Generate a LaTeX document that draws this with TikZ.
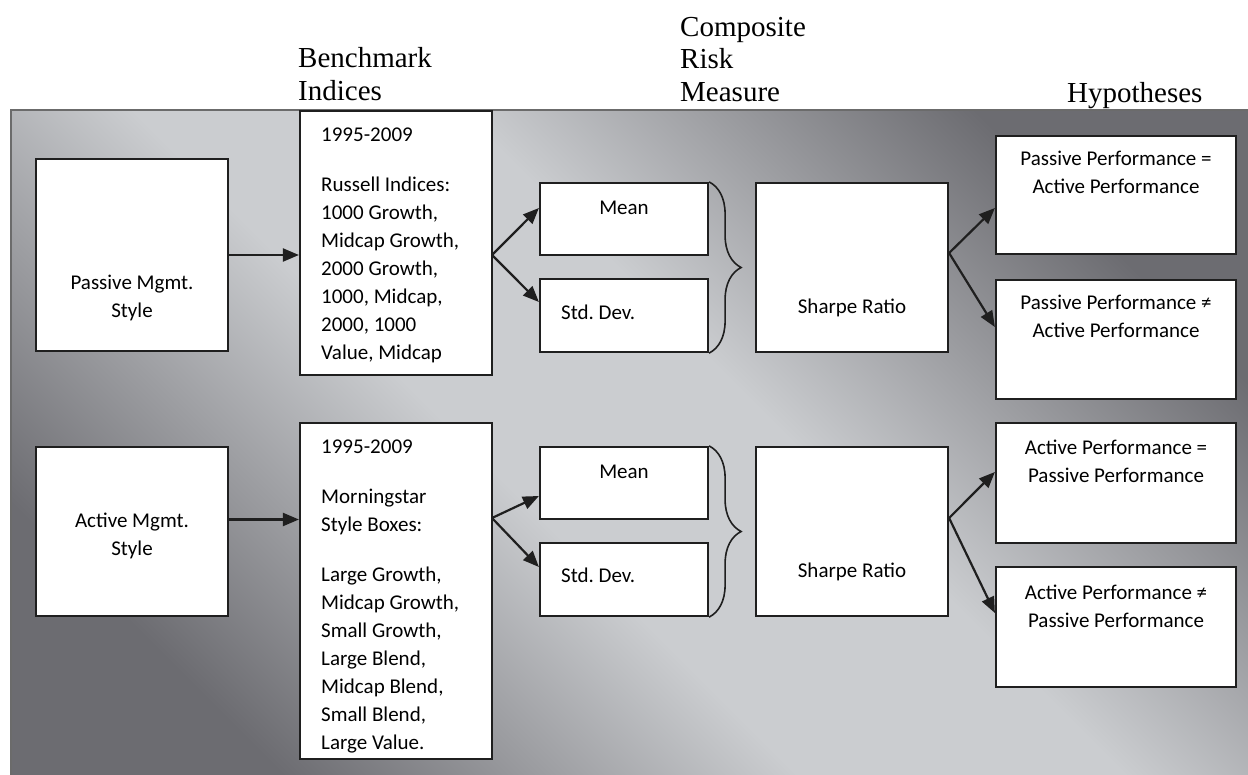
\documentclass[tikz,border=0pt]{standalone}
\usepackage{fontspec}
\usetikzlibrary{arrows.meta, decorations.pathreplacing}
\setmainfont{Carlito}
\newfontfamily\headfont{Liberation Serif}
\frenchspacing
\colorlet{box edge}{black!88}
\colorlet{bg edge}{black!58}
\definecolor{bg dark}{RGB}{108,108,113}
\definecolor{bg light}{RGB}{203,205,208}
\pgfdeclareverticalshading{backdrop}{100bp}{color(0bp)=(bg dark); color(25bp)=(bg dark);
  color(44bp)=(bg light); color(56bp)=(bg light); color(75bp)=(bg dark); color(100bp)=(bg dark)}
\tikzset{
  sbox/.style={draw=box edge, line width=2.2pt, fill=white, inner sep=0pt},
  btext/.style={font=\fontsize{21}{28}\selectfont, inner sep=0pt, align=left},
  ctext/.style={btext, align=center},
  heading/.style={font=\headfont\fontsize{29}{32.5}\selectfont, inner sep=0pt, align=left},
  edge/.style={draw=box edge, line width=2.2pt, -{Triangle[length=16pt,width=13pt]}},
  curly/.style={draw=box edge, line width=1.6pt, decorate, decoration={brace, amplitude=32pt}}
}

\begin{document}
\begin{tikzpicture}[x=1pt, y=-1pt]
    \useasboundingbox (0,0) rectangle (1248,774);
    \shadedraw[shading=backdrop, shading angle=-45, draw=bg edge, line width=2.5pt]
      (11,110) rectangle (1262,790);

    % column headings (base = last line)
    \node[heading, anchor=base west] (benchhead) at (298,100) {Benchmark\\Indices};
    \node[heading, anchor=base west] (riskhead) at (680,101) {Composite\\Risk\\Measure};
    \node[heading, anchor=base west] (hyphead) at (1067,102) {Hypotheses};

    % passive row
    \node[sbox, minimum width=192pt, minimum height=192pt] (passive) at (132,255) {};
    \node[sbox, minimum width=192pt, minimum height=264pt] (russell) at (396,243) {};
    \node[sbox, minimum width=168pt, minimum height=72pt] (mean1) at (624,219) {};
    \node[sbox, minimum width=168pt, minimum height=73pt] (std1) at (624,315.5) {};
    \node[sbox, minimum width=192pt, minimum height=169pt] (sharpe1) at (852,267.5) {};
    \node[sbox, minimum width=240pt, minimum height=118pt] (hyp1) at (1116,195) {};
    \node[sbox, minimum width=240pt, minimum height=119pt] (hyp2) at (1116,339.5) {};

    \node[ctext, anchor=base] (passivetext) at (132,317) {Passive Mgmt.\\Style};
    \node[btext, anchor=base west] (russelltext) at (321,359)
      {1995-2009\\[22pt]Russell Indices:\\1000 Growth,\\Midcap Growth,\\2000 Growth,\\1000, Midcap,\\2000, 1000\\Value, Midcap};
    \node[ctext, anchor=base] (mean1text) at (624,214) {Mean};
    \node[btext, anchor=base west] (std1text) at (561,319) {Std. Dev.};
    \node[ctext, anchor=base] (sharpe1text) at (852,313) {Sharpe Ratio};
    \node[ctext, anchor=base] (hyp1text) at (1116,193) {Passive Performance =\\Active Performance};
    \node[ctext, anchor=base] (hyp2text) at (1116,337) {Passive Performance ≠\\Active Performance};

    % active row
    \node[sbox, minimum width=192pt, minimum height=169pt] (active) at (132,531.5) {};
    \node[sbox, minimum width=192pt, minimum height=336pt] (morning) at (396,591) {};
    \node[sbox, minimum width=168pt, minimum height=72pt] (mean2) at (624,483) {};
    \node[sbox, minimum width=168pt, minimum height=73pt] (std2) at (624,579.5) {};
    \node[sbox, minimum width=192pt, minimum height=169pt] (sharpe2) at (852,531.5) {};
    \node[sbox, minimum width=240pt, minimum height=120pt] (hyp3) at (1116,483) {};
    \node[sbox, minimum width=240pt, minimum height=120pt] (hyp4) at (1116,627) {};

    \node[ctext, anchor=base] (activetext) at (132,555) {Active Mgmt.\\Style};
    \node[btext, anchor=base west] (morningtext) at (321,749)
      {1995-2009\\[22pt]Morningstar\\Style Boxes:\\[22pt]Large Growth,\\Midcap Growth,\\Small Growth,\\Large Blend,\\Midcap Blend,\\Small Blend,\\Large Value.};
    \node[ctext, anchor=base] (mean2text) at (624,478) {Mean};
    \node[btext, anchor=base west] (std2text) at (561,582) {Std. Dev.};
    \node[ctext, anchor=base] (sharpe2text) at (852,577) {Sharpe Ratio};
    \node[ctext, anchor=base] (hyp3text) at (1116,482) {Active Performance =\\Passive Performance};
    \node[ctext, anchor=base] (hyp4text) at (1116,627) {Active Performance ≠\\Passive Performance};

    % connectors
    \coordinate (fork1) at (492,255);
    \coordinate (fork2) at (492,518);
    \coordinate (split1) at ([yshift=14.5pt]sharpe1.east);
    \coordinate (split2) at ([yshift=13.5pt]sharpe2.east);
    \draw[edge] (passive.east) -- (passive.east -| russell.west);
    \draw[edge] ([yshift=12pt]active.east) -- ([yshift=12pt]active.east -| morning.west);
    \draw[edge] (fork1) -- ([yshift=11pt]mean1.west);
    \draw[edge] (fork1) -- ([yshift=13.5pt]std1.west);
    \draw[edge] (fork2) -- ([yshift=-13pt]mean2.west);
    \draw[edge] (fork2) -- ([yshift=12.5pt]std2.west);
    \draw[edge] (split1) -- ([yshift=-13pt]hyp1.west);
    \draw[edge] (split1) -- ([yshift=12.5pt]hyp2.west);
    \draw[edge] (split2) -- ([yshift=11pt]hyp3.west);
    \draw[edge] (split2) -- ([yshift=14pt]hyp4.west);
    \draw[curly] (mean1.north east) -- (std1.south east);
    \draw[curly] (mean2.north east) -- (std2.south east);
  \end{tikzpicture}
\end{document}
